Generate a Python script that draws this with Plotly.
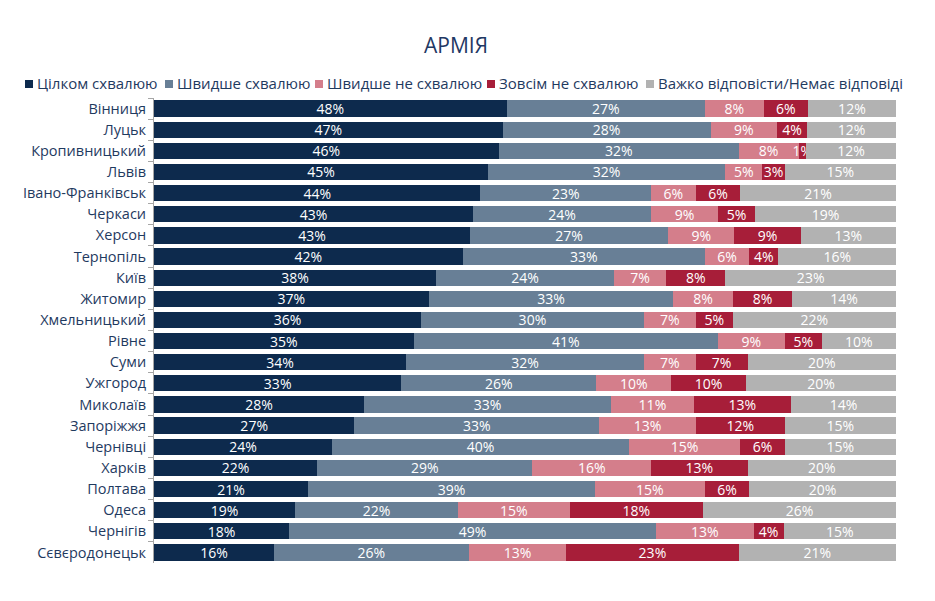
import plotly.graph_objects as go

cities = ["Вінниця", "Луцьк", "Кропивницький", "Львів", "Івано-Франківськ", "Черкаси",
          "Херсон", "Тернопіль", "Київ", "Житомир", "Хмельницький", "Рівне", "Суми",
          "Ужгород", "Миколаїв", "Запоріжжя", "Чернівці", "Харків", "Полтава", "Одеса",
          "Чернігів", "Сєвєродонецьк"]

fully_approve = [48, 47, 46, 45, 44, 43, 43, 42, 38, 37, 36, 35, 34, 33, 28, 27, 24, 22, 21, 19, 18, 16]
rather_approve = [27, 28, 32, 32, 23, 24, 27, 33, 24, 33, 30, 41, 32, 26, 33, 33, 40, 29, 39, 22, 49, 26]
rather_disapprove = [8, 9, 8, 5, 6, 9, 9, 6, 7, 8, 7, 9, 7, 10, 11, 13, 15, 16, 15, 15, 13, 13]
fully_disapprove = [6, 4, 1, 3, 6, 5, 9, 4, 8, 8, 5, 5, 7, 10, 13, 12, 6, 13, 6, 18, 4, 23]
hard_to_say = [12, 12, 12, 15, 21, 19, 13, 16, 23, 14, 22, 10, 20, 20, 14, 15, 15, 20, 20, 26, 15, 21]

series_names = ["Цілком схвалюю", "Швидше схвалюю", "Швидше не схвалюю",
                "Зовсім не схвалюю", "Важко відповісти/Немає відповіді"]
series_values = [fully_approve, rather_approve, rather_disapprove, fully_disapprove, hard_to_say]
series_colors = ["#0d2a4d", "#687f96", "#d47e8b", "#a71e39", "#b2b2b2"]

FONT = "Open Sans"
TEXT_COLOR = "#1f3a5f"

# page offset (browser body margin) so screen positions match the reference
OFF = 8
W, H = 935, 601
ML, MR, MT, MB = 154 - OFF, 39 + OFF, 98 - OFF, 38 + OFF
PW, PH = W - ML - MR, H - MT - MB

fig = go.Figure()
for name, vals, col in zip(series_names, series_values, series_colors):
    fig.add_trace(go.Bar(
        y=cities, x=vals, name=name, orientation="h",
        marker=dict(color=col, line=dict(width=0)),
        text=[f"{v}%" for v in vals],
        textposition="inside", insidetextanchor="middle", textangle=0,
        textfont=dict(color="white", size=14, family=FONT),
        constraintext="none", showlegend=False,
    ))

# manual legend (small squares with tight text spacing, as in the reference)
legend_text_px = [36 - OFF, 176 - OFF, 326 - OFF, 498 - OFF, 657 - OFF]
legend_y_px = 84 - OFF
shapes, annotations = [], []
for name, col, tx in zip(series_names, series_colors, legend_text_px):
    x0 = (tx - 11 - ML) / PW
    x1 = (tx - 3 - ML) / PW
    y0 = 1 + (MT - (legend_y_px + 4)) / PH
    y1 = 1 + (MT - (legend_y_px - 4)) / PH
    shapes.append(dict(type="rect", xref="paper", yref="paper", x0=x0, x1=x1, y0=y0, y1=y1,
                       fillcolor=col, line=dict(width=0)))
    annotations.append(dict(text=name, xref="paper", yref="paper",
                            x=(tx - 1 - ML) / PW, y=1 + (MT - legend_y_px + 1) / PH,
                            xanchor="left", yanchor="middle", showarrow=False,
                            font=dict(size=15, color=TEXT_COLOR, family=FONT)))

fig.update_layout(
    barmode="stack", barnorm="percent", bargap=0.23,
    width=W, height=H,
    margin=dict(l=ML, r=MR, t=MT, b=MB, autoexpand=False),
    paper_bgcolor="white", plot_bgcolor="white",
    font=dict(family=FONT, color=TEXT_COLOR, size=14),
    title=dict(text="АРМІЯ", x=(456 - OFF) / W, xanchor="center",
               y=1 - (46 - OFF) / H, yanchor="middle",
               font=dict(size=21, color="#1f3864", family=FONT)),
    uniformtext=dict(minsize=14, mode="show"),
    showlegend=False,
    shapes=shapes, annotations=annotations,
)
fig.update_xaxes(visible=False, range=[0, 100])
fig.update_yaxes(autorange="reversed", showline=True, linecolor="#a6a6a6", linewidth=1,
                 ticks="outside", tickson="boundaries", ticklen=5, tickcolor="#a6a6a6",
                 tickfont=dict(size=14.5, color=TEXT_COLOR, family=FONT), showgrid=False,
                 ticklabelstandoff=4)

fig.write_html("out.html")
